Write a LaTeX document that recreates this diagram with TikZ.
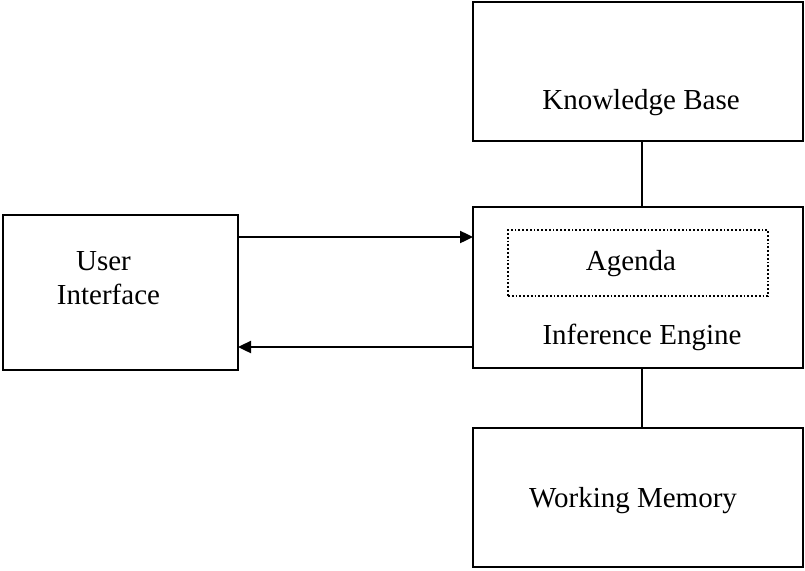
\documentclass[tikz,border=0pt]{standalone}
\usepackage{fontspec}
\setmainfont{Liberation Serif}
\usetikzlibrary{arrows.meta}
\begin{document}
\begin{tikzpicture}[x=1pt,y=-1pt,
  box/.style={draw, line width=2.4pt, inner sep=0pt, outer sep=0pt},
  agendabox/.style={draw, line width=1.8pt, dotted, inner sep=0pt, outer sep=0pt},
  lbl/.style={anchor=base, inner sep=0pt, font=\fontsize{29}{34}\selectfont},
  link/.style={line width=2.4pt},
  flow/.style={line width=2.4pt, -{Triangle[length=13pt,width=12pt]}}]
  \useasboundingbox (0,0) rectangle (805,570);

  % components
  \node[box, minimum width=330pt, minimum height=139pt] (kb) at (638,71.5) {};
  \node[box, minimum width=330pt, minimum height=161pt] (ie) at (638,287.5) {};
  \node[box, minimum width=330pt, minimum height=139pt] (wm) at (638,497.5) {};
  \node[box, minimum width=235pt, minimum height=155pt] (ui) at (120.5,292.5) {};
  \node[agendabox, minimum width=260pt, minimum height=66pt] (ag) at (638,263) {};

  % captions
  \node[lbl] (kbt) at (641,109) {Knowledge Base};
  \node[lbl] (agt) at (631,270) {Agenda};
  \node[lbl] (iet) at (642,344) {Inference Engine};
  \node[lbl] (wmt) at (633,507) {Working Memory};
  \node[lbl] (uit1) at (103.5,270) {User};
  \node[lbl] (uit2) at (108.5,304) {Interface};

  % connections
  \draw[link] ([xshift=4pt]kb.south) -- ([xshift=4pt]ie.north);
  \draw[link] ([xshift=4pt]ie.south) -- ([xshift=4pt]wm.north);
  \draw[flow] (ui.east |- 0,237) -- (ie.west |- 0,237);
  \draw[flow] (ie.west |- 0,347) -- (ui.east |- 0,347);
\end{tikzpicture}
\end{document}
